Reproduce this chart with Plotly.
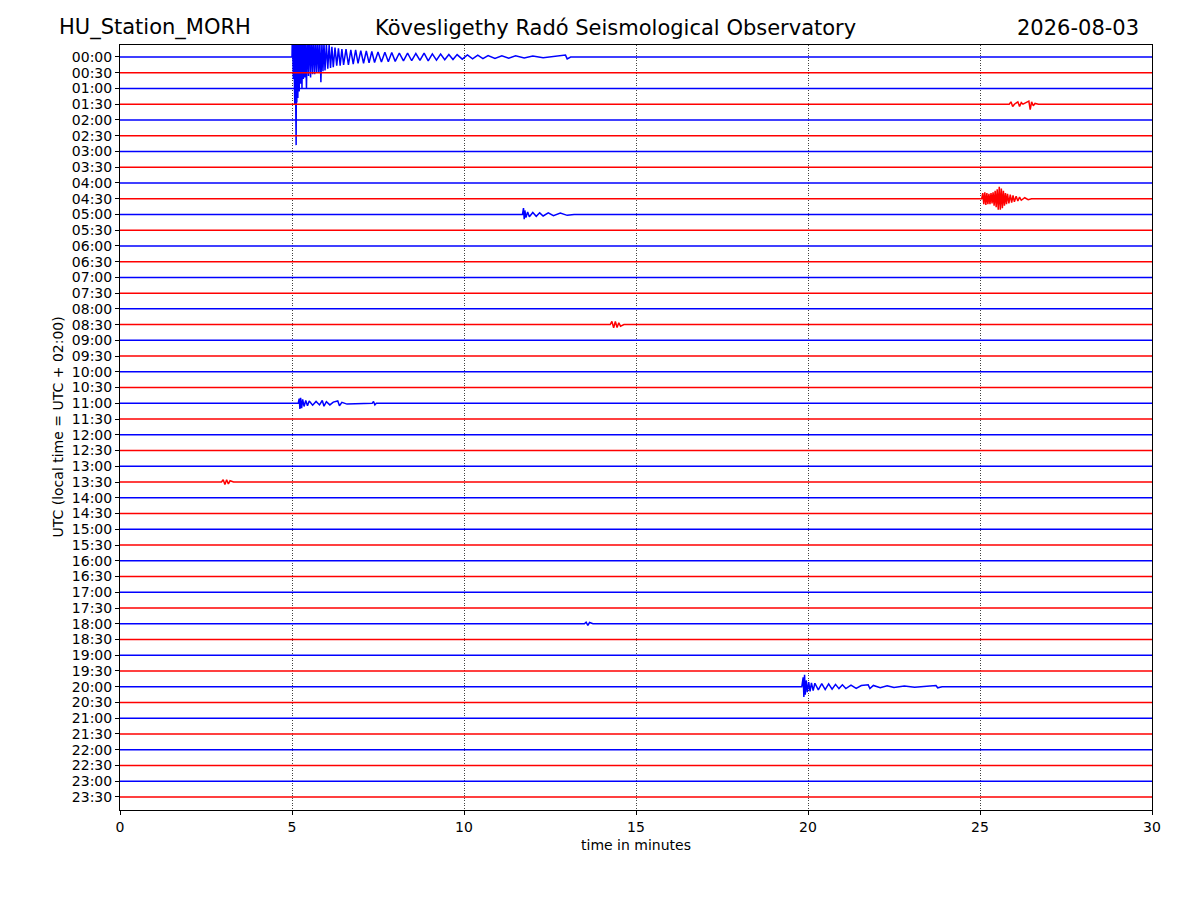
import plotly.graph_objects as go

station = "HU_Station_MORH"
observatory = "Kövesligethy Radó Seismological Observatory"
day = "2026-08-03"

row_labels = [
    "00:00", "00:30", "01:00", "01:30", "02:00", "02:30", "03:00", "03:30",
    "04:00", "04:30", "05:00", "05:30", "06:00", "06:30", "07:00", "07:30",
    "08:00", "08:30", "09:00", "09:30", "10:00", "10:30", "11:00", "11:30",
    "12:00", "12:30", "13:00", "13:30", "14:00", "14:30", "15:00", "15:30",
    "16:00", "16:30", "17:00", "17:30", "18:00", "18:30", "19:00", "19:30",
    "20:00", "20:30", "21:00", "21:30", "22:00", "22:30", "23:00", "23:30",
]
row_colors = ["blue", "red"]
x_ticks = [0, 5, 10, 15, 20, 25, 30]

# events: time in minutes, offset in row units (positive = downward)
quake_0000_t = [
    5.00, 5.01, 5.02, 5.03, 5.04, 5.05, 5.06, 5.07, 5.08, 5.09, 5.10, 5.11,
    5.12, 5.13, 5.14, 5.15, 5.17, 5.19, 5.21, 5.23, 5.25, 5.27, 5.29, 5.31,
    5.33, 5.35, 5.37, 5.39, 5.42, 5.45, 5.48, 5.51, 5.54, 5.57, 5.60, 5.63,
    5.66, 5.69, 5.72, 5.75, 5.78, 5.81, 5.84, 5.87, 5.90, 5.93, 5.96, 6.00,
    6.04, 6.08, 6.12, 6.16, 6.20, 6.25, 6.30, 6.35, 6.40, 6.45, 6.50, 6.57,
    6.64, 6.71, 6.78, 6.85, 6.92, 7.00, 7.08, 7.16, 7.24, 7.32, 7.40, 7.50,
    7.60, 7.70, 7.80, 7.90, 8.00, 8.12, 8.24, 8.36, 8.48, 8.60, 8.72, 8.84,
    8.96, 9.08, 9.20, 9.32, 9.44, 9.56, 9.68, 9.80, 9.95, 10.10, 10.25, 10.40,
    10.55, 10.70, 10.90, 11.10, 11.30, 11.50, 11.75, 12.00, 12.30, 12.60,
    12.95, 13.00, 13.10,
]
quake_0000_a = [
    0, -1.5, 1.0, -1.5, 1.4, -1.5, 2.0, -1.5, 3.0, -1.5, 2.5, -1.5,
    5.6, -1.5, 2.9, -1.5, 2.6, -1.5, 2.2, -1.5, 1.7, -1.5, 2.0, -1.5,
    1.4, -1.5, 1.3, -1.5, 2.0, -1.5, 1.2, -1.5, 1.3, -1.2, 1.1, -1.2,
    1.1, -1.0, 1.0, -1.1, 1.0, -0.9, 1.6, -0.9, 0.9, -0.9, 0.85, -0.8,
    0.75, -0.75, 0.7, -0.65, 0.65, -0.6, 0.55, -0.55, 0.55, -0.5, 0.5, -0.5,
    0.5, -0.45, 0.45, -0.45, 0.4, -0.4, 0.4, -0.38, 0.38, -0.35, 0.35, -0.32,
    0.32, -0.3, 0.3, -0.28, 0.28, -0.25, 0.25, -0.24, 0.24, -0.22, 0.22, -0.25,
    0.25, -0.2, 0.2, -0.18, 0.18, -0.16, 0.16, -0.15, 0.14, -0.13, 0.12, -0.11,
    0.1, -0.09, 0.09, -0.08, 0.08, -0.07, 0.07, -0.06, 0.05, -0.05,
    -0.12, 0.12, 0,
]

burst_0130_t = [25.85, 25.90, 25.95, 26.00, 26.10, 26.15, 26.20, 26.25, 26.42, 26.46, 26.50, 26.55, 26.60, 26.70]
burst_0130_a = [0, -0.15, 0.15, 0, -0.15, 0.15, -0.1, 0, -0.2, 0.35, -0.15, 0.1, -0.05, 0]

burst_0430_t = [
    25.05, 25.08, 25.11, 25.14, 25.17, 25.20, 25.23, 25.26, 25.29, 25.32, 25.35,
    25.38, 25.41, 25.44, 25.47, 25.50, 25.53, 25.56, 25.59, 25.62, 25.65, 25.68,
    25.71, 25.74, 25.77, 25.80, 25.84, 25.88, 25.92, 25.96, 26.00, 26.05, 26.10,
    26.15, 26.20, 26.30, 26.40, 26.50,
]
burst_0430_a = [
    0, -0.35, 0.35, -0.4, 0.4, -0.35, 0.35, -0.3, 0.35, -0.35, 0.3,
    -0.4, 0.45, -0.5, 0.55, -0.6, 0.7, -0.75, 0.7, -0.65, 0.6, -0.5,
    0.45, -0.35, 0.35, -0.3, 0.3, -0.25, 0.25, -0.2, 0.2, -0.15, 0.15,
    -0.1, 0.1, -0.06, 0.06, 0,
]

burst_0500_t = [11.70, 11.73, 11.75, 11.77, 11.80, 11.85, 11.90, 12.00, 12.10, 12.20, 12.30, 12.45, 12.60, 12.80, 13.00, 13.20]
burst_0500_a = [0, -0.4, 0.3, -0.25, 0.2, -0.15, 0.15, -0.12, 0.12, -0.1, 0.1, -0.1, 0.08, -0.08, 0.06, 0]

burst_0830_t = [14.25, 14.30, 14.35, 14.40, 14.45, 14.50, 14.55, 14.65]
burst_0830_a = [0, -0.2, 0.2, -0.2, 0.18, -0.12, 0.1, 0]

burst_1100_t = [
    5.18, 5.21, 5.23, 5.25, 5.28, 5.31, 5.35, 5.40, 5.45, 5.50, 5.60, 5.70,
    5.80, 5.88, 5.93, 6.00, 6.10, 6.20, 6.33, 6.38, 6.45, 6.60, 7.33, 7.37,
    7.41, 7.45,
]
burst_1100_a = [
    0, -0.3, 0.35, -0.35, 0.3, -0.25, 0.2, -0.18, 0.15, -0.15, 0.12, -0.12,
    0.1, -0.18, 0.18, -0.1, 0.1, -0.08, -0.15, 0.15, -0.06, 0.05, 0, -0.12,
    0.1, 0,
]

burst_1330_t = [2.95, 3.00, 3.05, 3.10, 3.15, 3.20, 3.30]
burst_1330_a = [0, -0.15, 0.15, -0.15, 0.12, -0.08, 0]

burst_1800_t = [13.50, 13.55, 13.60, 13.65, 13.75]
burst_1800_a = [0, -0.1, 0.1, -0.08, 0]

quake_2000_t = [
    19.82, 19.86, 19.88, 19.90, 19.92, 19.95, 19.98, 20.02, 20.06, 20.10,
    20.15, 20.20, 20.30, 20.40, 20.50, 20.60, 20.70, 20.80, 20.90, 21.00,
    21.10, 21.25, 21.40, 21.55, 21.75, 21.80, 21.90, 22.10, 22.30, 22.50,
    22.80, 23.10, 23.40, 23.72, 23.77, 23.90,
]
quake_2000_a = [
    0, -0.6, 0.65, -0.76, 0.5, -0.4, 0.35, -0.3, 0.3, -0.25,
    0.25, -0.22, 0.2, -0.2, 0.18, -0.18, 0.15, -0.15, 0.12, -0.12,
    0.12, -0.1, 0.1, -0.08, -0.12, 0.12, -0.08, 0.07, -0.06, 0.05,
    -0.04, 0.04, -0.03, -0.07, 0.07, 0,
]

events = {
    0: (quake_0000_t, quake_0000_a),
    3: (burst_0130_t, burst_0130_a),
    9: (burst_0430_t, burst_0430_a),
    10: (burst_0500_t, burst_0500_a),
    17: (burst_0830_t, burst_0830_a),
    22: (burst_1100_t, burst_1100_a),
    27: (burst_1330_t, burst_1330_a),
    36: (burst_1800_t, burst_1800_a),
    40: (quake_2000_t, quake_2000_a),
}

fig = go.Figure()
for i, label in enumerate(row_labels):
    ev_t, ev_a = events.get(i, ([], []))
    xs = [0] + list(ev_t) + [30]
    ys = [i] + [i + a for a in ev_a] + [i]
    fig.add_trace(go.Scatter(
        x=xs, y=ys, mode="lines", name=label, showlegend=False,
        line=dict(color=row_colors[i % 2], width=1.5),
        hoverinfo="skip",
    ))

font = "DejaVu Sans, Arial, sans-serif"
fig.update_layout(
    width=1200, height=900,
    margin=dict(l=112, r=56, t=37, b=98),
    plot_bgcolor="white", paper_bgcolor="white",
    font=dict(family=font, size=14, color="black"),
    annotations=[
        dict(text=station, x=(155 - 120) / 1032, y=1.004, xref="paper", yref="paper",
             xanchor="center", yanchor="bottom", showarrow=False, font=dict(size=21)),
        dict(text=observatory, x=(615 - 120) / 1032, y=1.004, xref="paper", yref="paper",
             xanchor="center", yanchor="bottom", showarrow=False, font=dict(size=21)),
        dict(text=day, x=(1141 - 120) / 1032, y=1.004, xref="paper", yref="paper",
             xanchor="right", yanchor="bottom", showarrow=False, font=dict(size=21)),
        dict(text="time in minutes", x=0.5, y=-0.046, xref="paper", yref="paper",
             xanchor="center", yanchor="middle", showarrow=False, font=dict(size=14)),
        dict(text="UTC (local time = UTC + 02:00)", x=(57 - 120) / 1032, y=0.5,
             xref="paper", yref="paper", textangle=-90,
             xanchor="center", yanchor="middle", showarrow=False, font=dict(size=14)),
    ],
)
fig.update_xaxes(
    range=[0, 30], tickvals=x_ticks, ticks="outside", ticklen=4, tickcolor="black",
    showline=True, linecolor="black", linewidth=1, mirror=True,
    showgrid=True, gridcolor="#444444", gridwidth=0.8, griddash="1px,1.5px",
    zeroline=False, tickfont=dict(size=14),
)
fig.update_yaxes(
    range=[47.83, -0.76], tickvals=list(range(len(row_labels))), ticktext=row_labels,
    ticks="outside", ticklen=4, tickcolor="black",
    showline=True, linecolor="black", linewidth=1, mirror=True,
    showgrid=False, zeroline=False, tickfont=dict(size=14),
)

fig.write_html("out.html")
